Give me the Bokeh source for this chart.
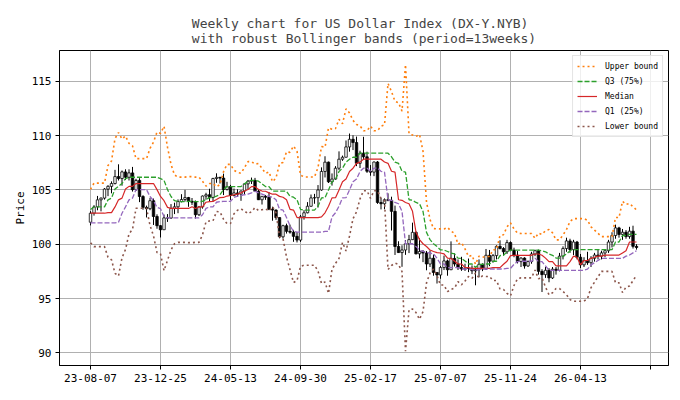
import numpy as np
import pandas as pd
from bokeh.plotting import figure
from bokeh.models import FixedTicker, Legend, LegendItem
from bokeh.embed import file_html
from bokeh.resources import INLINE

FONT = "DejaVu Sans Mono"
period = 13

# x ticks every 20 weeks, starting 2023-08-07
tick_weeks = [0, 20, 40, 60, 80, 100, 120, 140, 160]
tick_labels = ["23-08-07", "23-12-25", "24-05-13", "24-09-30", "25-02-17",
               "25-07-07", "25-11-24", "26-04-13", ""]

# closes of the 12 weeks before the first candle (only used for the bands)
pre_closes = [103.20, 104.21, 104.01, 103.56, 102.27, 102.91, 102.91, 101.97,
              99.91, 101.07, 101.63, 102.02]

opens = [102.02, 102.85, 103.43, 104.08, 104.24, 105.07, 105.32, 105.58, 106.22, 106.04,
         106.65, 106.16, 106.56, 105.02, 105.87, 104.39, 103.39, 103.27, 104.00, 102.55,
         101.70, 101.33, 102.42, 102.40, 103.29, 103.44, 103.92, 104.11, 104.29, 103.94,
         103.86, 102.71, 103.43, 104.43, 104.55, 104.30, 106.04, 106.15, 106.08, 105.03,
         105.30, 104.48, 104.72, 104.60, 104.89, 105.55, 105.80, 105.87, 104.87, 104.09,
         104.40, 104.32, 103.21, 103.14, 102.45, 100.68, 101.70, 101.18, 101.11, 100.72,
         100.38, 102.52, 102.89, 103.49, 104.26, 104.28, 104.99, 106.69, 107.55, 105.74,
         105.99, 106.99, 107.82, 108.00, 108.95, 109.65, 109.35, 107.44, 108.37, 108.04,
         106.71, 106.63, 107.56, 103.84, 103.72, 104.09, 104.04, 103.02, 99.79, 99.23,
         99.47, 100.04, 100.42, 101.09, 99.11, 99.33, 99.19, 98.18, 98.71, 97.40,
         97.17, 97.85, 98.46, 97.65, 98.69, 98.18, 97.85, 97.72, 97.77, 97.77,
         97.55, 97.65, 98.15, 97.72, 98.98, 98.43, 98.95, 99.80, 99.60, 99.30,
         100.15, 99.45, 98.98, 98.40, 98.72, 98.00, 98.40, 99.10, 99.40, 97.50,
         97.20, 97.60, 96.90, 97.70, 97.60, 98.90, 99.60, 100.30, 99.50, 100.20,
         98.80, 98.10, 98.50, 98.30, 98.70, 99.00, 98.90, 99.20, 99.40, 100.20,
         100.80, 101.50, 100.90, 101.10, 100.70, 101.20, 99.80]

highs = [103.04, 103.59, 104.44, 104.30, 105.16, 105.43, 105.78, 106.84, 107.35, 106.78,
         106.89, 106.89, 107.11, 106.01, 106.07, 104.51, 103.55, 104.26, 104.20, 102.75,
         101.76, 102.73, 102.77, 103.69, 103.82, 104.12, 104.60, 105.00, 104.35, 104.25,
         104.02, 103.52, 104.48, 104.73, 105.10, 106.11, 106.52, 106.20, 106.49, 105.74,
         105.46, 105.12, 105.05, 104.95, 105.62, 105.91, 106.13, 106.10, 105.08, 104.44,
         104.52, 104.80, 103.45, 103.20, 102.47, 101.79, 101.89, 101.80, 101.32, 101.12,
         102.69, 103.13, 103.87, 104.57, 104.63, 105.44, 107.07, 108.09, 107.60, 106.51,
         107.18, 108.54, 108.15, 109.54, 110.18, 110.02, 109.90, 108.60, 109.88, 108.51,
         107.28, 107.61, 107.65, 104.26, 104.21, 104.68, 104.37, 103.55, 100.27, 99.90,
         100.38, 100.86, 101.98, 101.18, 100.54, 99.46, 99.37, 99.42, 99.04, 97.42,
         98.00, 98.95, 98.58, 100.26, 99.15, 98.60, 98.84, 98.20, 98.68, 98.05,
         97.90, 98.60, 98.23, 99.56, 99.47, 99.10, 99.90, 100.36, 99.73, 100.40,
         100.26, 99.68, 99.37, 98.80, 98.80, 98.50, 99.30, 99.50, 99.50, 97.70,
         97.90, 97.80, 97.90, 97.90, 99.20, 99.80, 100.60, 100.50, 100.40, 100.30,
         99.10, 98.80, 99.30, 98.90, 99.20, 99.50, 99.40, 99.50, 100.40, 101.10,
         101.80, 101.60, 101.40, 101.30, 101.60, 101.70, 100.00]

lows = [101.73, 102.63, 103.12, 103.02, 104.10, 104.42, 104.68, 105.50, 105.86, 105.38,
        105.90, 105.86, 104.84, 104.90, 103.87, 103.17, 102.46, 103.13, 101.77, 101.42,
        100.62, 101.33, 102.05, 102.34, 102.77, 102.85, 103.85, 103.92, 103.44, 103.61,
        102.36, 102.59, 103.27, 104.09, 103.88, 103.93, 105.65, 105.58, 104.52, 104.94,
        104.08, 104.40, 104.36, 103.99, 104.54, 105.04, 105.54, 104.80, 104.07, 103.65,
        104.08, 103.13, 102.16, 102.24, 100.54, 100.51, 100.98, 100.97, 100.22, 100.16,
        100.21, 102.26, 102.84, 103.45, 103.72, 103.37, 104.92, 106.14, 105.63, 105.39,
        105.93, 106.82, 107.67, 107.99, 108.51, 108.66, 107.18, 107.01, 107.76, 106.56,
        106.30, 106.26, 103.71, 103.20, 103.21, 103.95, 101.26, 99.01, 99.21, 97.92,
        99.02, 99.18, 100.38, 99.07, 98.69, 98.35, 97.60, 97.90, 97.10, 96.38,
        96.82, 97.62, 97.10, 97.62, 97.95, 97.63, 97.55, 97.54, 97.43, 97.25,
        96.22, 96.95, 97.52, 97.64, 97.98, 98.30, 98.60, 99.52, 98.98, 99.10,
        99.35, 98.80, 98.23, 97.90, 97.75, 97.90, 98.20, 98.90, 97.20, 95.60,
        96.90, 96.50, 96.80, 97.20, 97.50, 98.60, 99.30, 99.20, 99.00, 98.60,
        97.80, 97.90, 98.10, 97.90, 98.40, 98.60, 98.60, 98.80, 99.20, 99.70,
        100.50, 100.60, 100.40, 100.50, 100.50, 99.60, 99.50]

closes = [102.85, 103.43, 104.08, 104.24, 105.07, 105.32, 105.58, 106.22, 106.04, 106.65,
          106.16, 106.56, 105.02, 105.87, 104.39, 103.39, 103.27, 104.00, 102.55, 101.70,
          101.33, 102.42, 102.40, 103.29, 103.44, 103.92, 104.11, 104.29, 103.94, 103.86,
          102.71, 103.43, 104.43, 104.55, 104.30, 106.04, 106.15, 106.08, 105.03, 105.30,
          104.48, 104.72, 104.60, 104.89, 105.55, 105.80, 105.87, 104.87, 104.09, 104.40,
          104.32, 103.21, 103.14, 102.45, 100.68, 101.70, 101.18, 101.11, 100.72, 100.38,
          102.52, 102.89, 103.49, 104.26, 104.28, 104.99, 106.69, 107.55, 105.74, 105.99,
          106.99, 107.82, 108.00, 108.95, 109.65, 109.35, 107.44, 108.37, 108.04, 106.71,
          106.63, 107.56, 103.84, 103.72, 104.09, 104.04, 103.02, 99.79, 99.23, 99.47,
          100.04, 100.42, 101.09, 99.11, 99.33, 99.19, 98.18, 98.71, 97.40, 97.17,
          97.85, 98.46, 97.65, 98.69, 98.18, 97.85, 97.72, 97.77, 97.77, 97.55,
          97.65, 98.15, 97.72, 98.98, 98.43, 98.95, 99.80, 99.60, 99.30, 100.15,
          99.45, 98.98, 98.40, 98.72, 98.00, 98.40, 99.10, 99.40, 97.50, 97.20,
          97.60, 96.90, 97.70, 97.60, 98.90, 99.60, 100.30, 99.50, 100.20, 98.80,
          98.10, 98.50, 98.30, 98.70, 99.00, 98.90, 99.20, 99.40, 100.20, 100.80,
          101.50, 100.90, 101.10, 100.70, 101.20, 99.80, 99.70]

# robust bollinger bands: rolling quartiles of the close
c = pd.Series(pre_closes + closes)
roll = c.rolling(period)
n0 = len(pre_closes)
q1 = roll.quantile(0.25).iloc[n0:].values
med = roll.quantile(0.50).iloc[n0:].values
q3 = roll.quantile(0.75).iloc[n0:].values
iqr = q3 - q1
upper = q3 + 1.5 * iqr
lower = q1 - 1.5 * iqr

x = np.arange(len(closes))
o = np.array(opens)
cl = np.array(closes)
up = cl >= o
dn = ~up

p = figure(width=680, height=400, x_range=(-8.86, 165.14), y_range=(88.84, 117.82),
           output_backend="svg", toolbar_location=None,
           min_border_left=59, min_border_right=12, min_border_top=50, min_border_bottom=35)

p.title.text = "Weekly chart for US Dollar Index (DX-Y.NYB)\nwith robust Bollinger bands (period=13weeks)"
p.title.align = "center"
p.title.text_font = FONT
p.title.text_font_size = "13px"
p.title.text_font_style = "normal"
p.title.text_line_height = 1.0
p.title.standoff = 10

# candles
p.segment(x, highs, x, lows, line_color="black", line_width=1)
p.vbar(x[up], 0.7, o[up], cl[up], fill_color="white", line_color="black", line_width=0.8)
p.vbar(x[dn], 0.7, o[dn], cl[dn], fill_color="black", line_color="black", line_width=0.8)

# bands
r_up = p.line(x, upper, line_color="#ff7f0e", line_width=1.6, line_dash="2 3")
r_q3 = p.line(x, q3, line_color="#2ca02c", line_width=1.3, line_dash="5 2")
r_md = p.line(x, med, line_color="#d62728", line_width=1.2)
r_q1 = p.line(x, q1, line_color="#9467bd", line_width=1.3, line_dash="5 2")
r_lo = p.line(x, lower, line_color="#8c564b", line_width=1.6, line_dash="2 3")

legend = Legend(items=[
    LegendItem(label="Upper bound", renderers=[r_up]),
    LegendItem(label="Q3 (75%)", renderers=[r_q3]),
    LegendItem(label="Median", renderers=[r_md]),
    LegendItem(label="Q1 (25%)", renderers=[r_q1]),
    LegendItem(label="Lower bound", renderers=[r_lo]),
], location="top_right")
legend.label_text_font = FONT
legend.label_text_font_size = "8px"
legend.label_text_color = "black"
legend.label_height = 12
legend.glyph_height = 12
legend.glyph_width = 20
legend.label_standoff = 8
legend.spacing = 3
legend.padding = 4
legend.margin = 5
legend.border_line_color = "#cccccc"
legend.background_fill_alpha = 0.8
p.add_layout(legend)

p.xaxis.ticker = FixedTicker(ticks=tick_weeks)
p.xaxis.major_label_overrides = dict(zip(tick_weeks, tick_labels))
p.yaxis.ticker = FixedTicker(ticks=[90, 95, 100, 105, 110, 115])
p.yaxis.axis_label = "Price"

for ax in (p.xaxis, p.yaxis):
    ax.major_label_text_font = FONT
    ax.major_label_text_font_size = "11px"
    ax.major_label_text_color = "black"
    ax.axis_line_color = "black"
    ax.major_tick_line_color = "black"
    ax.major_tick_out = 4
    ax.major_tick_in = 0
    ax.minor_tick_line_color = None
    ax.major_label_standoff = 4
p.yaxis.axis_label_text_font = FONT
p.yaxis.axis_label_text_font_size = "11px"
p.yaxis.axis_label_text_font_style = "normal"
p.yaxis.axis_label_text_color = "black"
p.yaxis.axis_label_standoff = 2

p.grid.grid_line_color = "#b0b0b0"
p.grid.grid_line_width = 1
p.outline_line_color = "black"
p.outline_line_alpha = 1

open("out.html", "w").write(file_html(p, INLINE))
